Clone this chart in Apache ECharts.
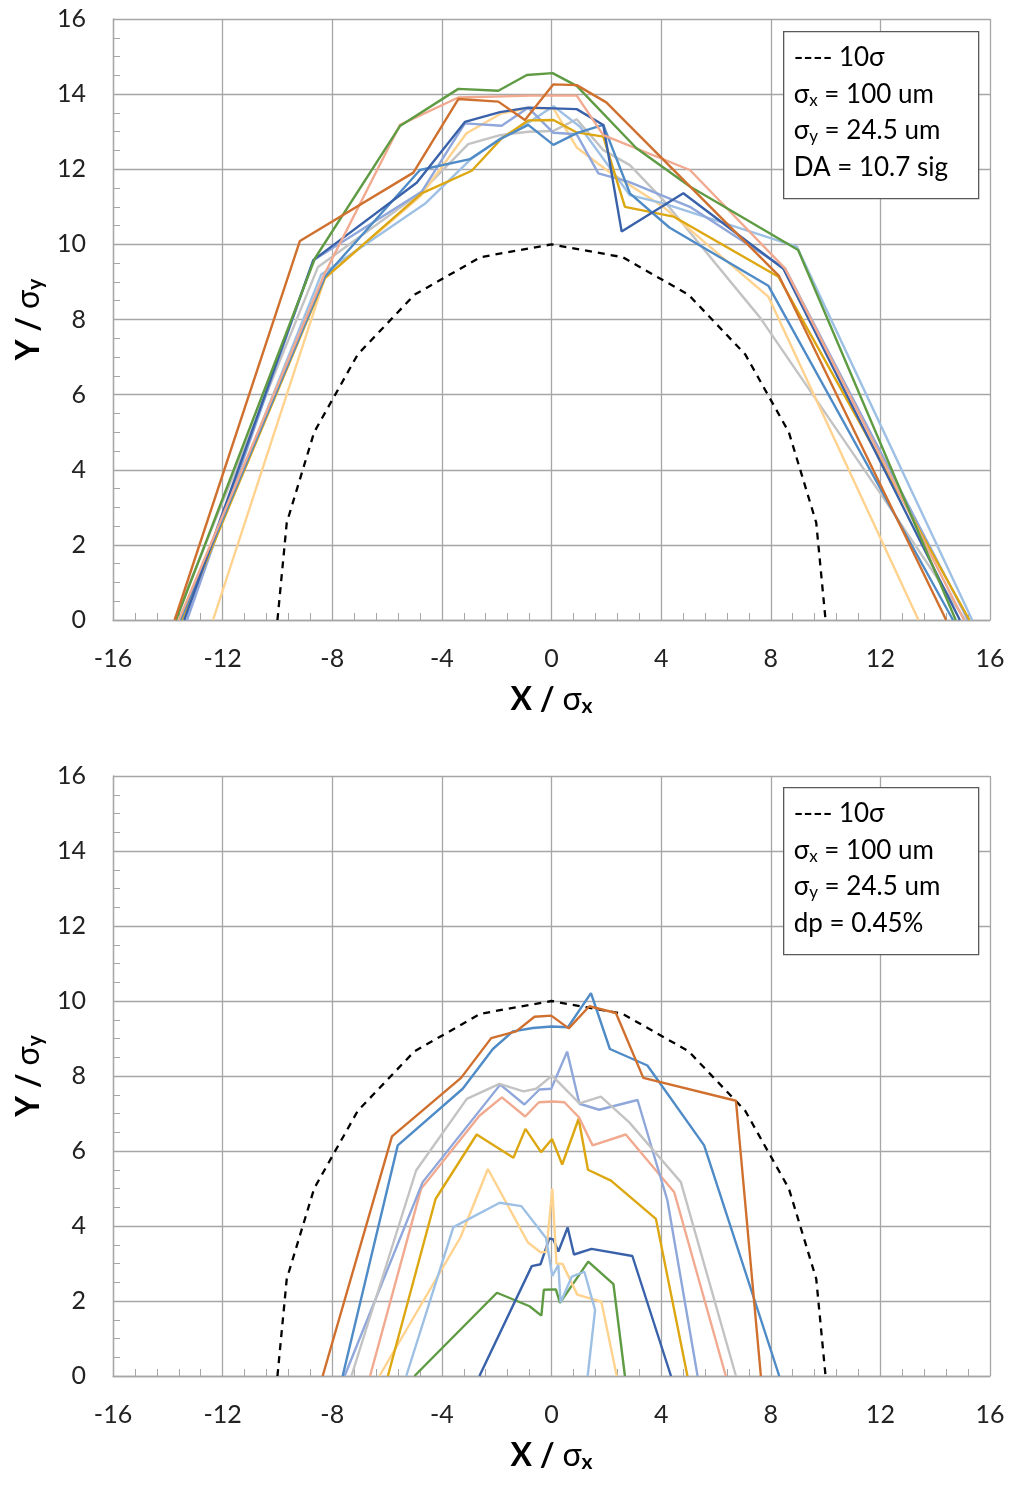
<!DOCTYPE html>
<html>
<head>
<meta charset="utf-8">
<script src="https://cdn.jsdelivr.net/npm/echarts@6/dist/echarts.min.js"></script>
<style>
  html, body { margin: 0; padding: 0; background: #fff; }
  #chart { width: 1012px; height: 1485px; }
</style>
</head>
<body>
<div id="chart"></div>
<script>
// ---- Axis ticks ----
const xTicks = [-16, -12, -8, -4, 0, 4, 8, 12, 16];
const yTicks = [0, 2, 4, 6, 8, 10, 12, 14, 16];

// ---- 10 sigma reference boundary ----
const circleX = [-10, -9.66, -8.66, -7.07, -5, -2.59, 0, 2.59, 5, 7.07, 8.66, 9.66, 10];
const circleY = [0, 2.59, 5, 7.07, 8.66, 9.66, 10, 9.66, 8.66, 7.07, 5, 2.59, 0];

// ---- On-momentum dynamic aperture (upper panel), [x, y] per seed ----
const daOrange = [[-13.75,0],[-9.18,10.09],[-5.04,11.91],[-3.4,13.87],[-1.94,13.8],[-0.97,13.31],[0.07,14.26],[0.92,14.24],[2.0,13.78],[8.3,9.16],[14.4,0]];
const daGreen = [[-13.7,0],[-8.63,9.63],[-5.53,13.15],[-3.4,14.14],[-1.94,14.09],[-0.9,14.51],[0.04,14.56],[0.92,14.22],[3.1,12.56],[5.05,11.54],[9.0,9.85],[14.75,0]];
const daSalmon = [[-13.6,0],[-8.27,9.23],[-5.53,13.18],[-3.4,13.91],[-0.78,13.96],[0.92,13.96],[1.89,12.91],[5.05,11.98],[8.52,9.36],[15.05,0]];
const daDarkBlue = [[-13.4,0],[-8.69,9.58],[-4.92,11.64],[-3.16,13.26],[-1.88,13.52],[-0.85,13.64],[0.07,13.62],[0.92,13.6],[1.89,13.18],[2.56,10.34],[4.81,11.36],[8.46,9.35],[14.9,0]];
const daBlue = [[-13.55,0],[-8.27,9.14],[-4.8,11.98],[-2.97,12.27],[-1.88,12.8],[-0.85,13.18],[0.07,12.65],[0.92,12.96],[1.89,13.18],[2.86,11.36],[4.3,10.45],[7.91,8.9],[14.65,0]];
const daGold = [[-13.5,0],[-8.27,9.1],[-4.74,11.36],[-2.91,11.96],[-1.82,12.82],[-0.85,13.3],[0.07,13.31],[0.92,12.98],[1.89,12.87],[2.68,11.0],[4.45,10.74],[8.28,9.14],[15.25,0]];
const daGray = [[-13.75,0],[-8.52,9.4],[-4.8,11.36],[-3.04,12.67],[-1.88,12.91],[-0.85,13.0],[0.07,13.02],[0.92,13.33],[1.89,12.51],[2.86,12.11],[4.08,11.18],[7.61,8.05],[12.0,3.37],[15.1,0]];
const daPeriwinkle = [[-13.3,0],[-8.69,9.58],[-4.74,11.4],[-3.16,13.22],[-1.82,13.16],[-0.85,13.64],[0.07,12.97],[0.92,12.93],[1.71,11.89],[2.8,11.67],[5.05,11.0],[8.52,9.36],[15.2,0]];
const daLightBlue = [[-13.45,0],[-8.4,9.2],[-4.62,11.08],[-2.97,12.25],[-1.76,12.87],[-0.78,13.27],[0.07,13.68],[1.04,13.13],[2.86,11.31],[4.08,11.09],[8.95,9.94],[15.35,0]];
const daLightYellow = [[-12.35,0],[-8.27,9.1],[-4.8,11.27],[-3.1,12.96],[-1.82,13.49],[-0.85,13.62],[0.07,13.62],[0.92,12.58],[2.01,11.98],[3.23,11.4],[4.08,11.0],[7.91,8.61],[13.39,0]];

// ---- Off-momentum (dp = 0.45%) dynamic aperture (lower panel) ----
const dpOrange = [[-8.35,0],[-5.82,6.39],[-3.3,7.95],[-2.2,9.01],[-1.29,9.19],[-0.62,9.58],[-0.01,9.61],[0.63,9.27],[1.38,9.86],[2.35,9.68],[3.35,7.95],[6.73,7.34],[7.64,0]];
const dpBlue = [[-7.62,0],[-5.61,6.15],[-3.24,7.66],[-2.14,8.72],[-1.41,9.19],[-0.68,9.28],[0,9.32],[0.6,9.3],[1.44,10.21],[2.13,8.72],[3.5,8.28],[5.57,6.15],[8.31,0]];
const dpGray = [[-7.3,0],[-4.94,5.48],[-3.09,7.39],[-1.9,7.79],[-1.02,7.59],[-0.56,7.66],[0.02,8.01],[1.02,7.27],[1.8,7.45],[2.83,6.77],[4.72,5.17],[6.73,0]];
const dpPeriwinkle = [[-7.55,0],[-4.7,5.17],[-1.87,7.77],[-0.99,7.24],[-0.44,7.64],[-0.01,7.66],[0.57,8.65],[1.02,7.26],[1.74,7.1],[3.14,7.36],[4.23,4.68],[5.33,0]];
const dpSalmon = [[-6.62,0],[-4.76,4.99],[-2.63,6.94],[-1.81,7.43],[-0.96,6.92],[-0.46,7.3],[0.05,7.32],[0.47,7.3],[1.0,6.9],[1.5,6.15],[2.71,6.44],[4.48,4.9],[6.36,0]];
const dpGold = [[-5.97,0],[-4.23,4.72],[-2.73,6.44],[-1.39,5.82],[-0.95,6.59],[-0.38,5.97],[0.02,6.32],[0.39,5.64],[0.99,6.86],[1.33,5.5],[2.17,5.21],[3.81,4.19],[4.96,0]];
const dpLightBlue = [[-5.3,0],[-3.58,3.97],[-1.89,4.62],[-1.1,4.53],[-0.2,3.68],[0.03,2.67],[0.25,2.96],[0.33,1.96],[0.74,2.65],[1.2,2.78],[1.59,1.76],[1.32,0]];
const dpLightYellow = [[-6.28,0],[-3.32,3.7],[-2.32,5.52],[-0.86,3.56],[-0.4,3.3],[-0.19,3.31],[0.03,5.0],[0.18,3.0],[0.4,2.99],[0.94,2.17],[1.82,1.98],[2.38,0]];
const dpDarkBlue = [[-2.63,0],[-0.72,2.93],[-0.4,2.98],[-0.08,3.67],[0.07,3.64],[0.25,3.32],[0.59,3.96],[0.82,3.24],[1.46,3.39],[2.95,3.2],[4.36,0]];
const dpGreen = [[-5.0,0],[-1.99,2.22],[-0.8,1.86],[-0.37,1.61],[-0.28,2.3],[0.16,2.31],[0.31,1.95],[1.34,3.05],[2.26,2.45],[2.68,0]];

// ---- Legend box texts ----
const topNotes = ['---- 10σ', 'σx = 100 um', 'σy = 24.5 um', 'DA = 10.7 sig'];
const bottomNotes = ['---- 10σ', 'σx = 100 um', 'σy = 24.5 um', 'dp = 0.45%'];

const COLORS = {
  orange: '#D0702F', blue: '#4F8BC6', darkBlue: '#3A62AA', green: '#5E9B43',
  gold: '#DDA712', gray: '#C3C3C3', salmon: '#F1A98F', lightBlue: '#9DC0E4',
  periwinkle: '#8FA7DA', lightYellow: '#FFD28E'
};

const FONT = 'Lato, "Open Sans", sans-serif';
const GRID_COLOR = '#A6A6A6';

const topSeries = [
  ['gray', daGray], ['lightYellow', daLightYellow], ['lightBlue', daLightBlue],
  ['periwinkle', daPeriwinkle], ['gold', daGold], ['blue', daBlue],
  ['darkBlue', daDarkBlue], ['salmon', daSalmon], ['green', daGreen], ['orange', daOrange]
];
const bottomSeries = [
  ['green', dpGreen], ['darkBlue', dpDarkBlue], ['lightYellow', dpLightYellow],
  ['lightBlue', dpLightBlue], ['gold', dpGold], ['salmon', dpSalmon],
  ['periwinkle', dpPeriwinkle], ['gray', dpGray], ['blue', dpBlue], ['orange', dpOrange]
];

const titleRich = {
  b: { fontFamily: FONT, fontWeight: 'bold', fontSize: 32, color: '#000' },
  g: { fontFamily: FONT, fontSize: 32, color: '#000' },
  s: { fontFamily: FONT, fontWeight: 'bold', fontSize: 21, color: '#000', padding: [14, 0, 0, 0] }
};

function xAxisFor(gridIndex) {
  return {
    type: 'value', gridIndex, min: xTicks[0], max: xTicks[xTicks.length - 1],
    interval: xTicks[1] - xTicks[0],
    name: '{b|X / }{g|σ}{s|x}', nameLocation: 'middle', nameGap: 62,
    nameTextStyle: { rich: titleRich },
    axisLine: { show: true, onZero: false, lineStyle: { color: GRID_COLOR, width: 1.3 } },
    axisTick: { show: true, inside: true, length: 7, lineStyle: { color: GRID_COLOR, width: 1 } },
    minorTick: { show: true, splitNumber: 5, length: 7, lineStyle: { color: GRID_COLOR, width: 1 } },
    splitLine: { show: true, lineStyle: { color: GRID_COLOR, width: 1.3 } },
    axisLabel: { fontFamily: FONT, fontSize: 25, color: '#222', margin: 26 }
  };
}

function yAxisFor(gridIndex) {
  return {
    type: 'value', gridIndex, min: yTicks[0], max: yTicks[yTicks.length - 1],
    interval: yTicks[1] - yTicks[0],
    name: '{b|Y / }{g|σ}{s|y}', nameLocation: 'middle', nameGap: 58,
    nameTextStyle: { rich: titleRich },
    axisLine: { show: true, onZero: false, lineStyle: { color: GRID_COLOR, width: 1.3 } },
    axisTick: { show: true, inside: true, length: 7, lineStyle: { color: GRID_COLOR, width: 1 } },
    minorTick: { show: true, splitNumber: 4, length: 7, lineStyle: { color: GRID_COLOR, width: 1 } },
    splitLine: { show: true, lineStyle: { color: GRID_COLOR, width: 1.3 } },
    axisLabel: { fontFamily: FONT, fontSize: 25, color: '#222', margin: 27 }
  };
}

function lineSeries(list, axisIndex) {
  return list.map(([key, data]) => ({
    type: 'line', xAxisIndex: axisIndex, yAxisIndex: axisIndex,
    data, showSymbol: false, symbol: 'none', silent: true,
    lineStyle: { color: COLORS[key], width: 2.4 }, z: 3
  }));
}

function circleSeries(axisIndex) {
  return {
    type: 'line', xAxisIndex: axisIndex, yAxisIndex: axisIndex,
    data: circleX.map((x, i) => [x, circleY[i]]),
    showSymbol: false, symbol: 'none', silent: true, z: 2,
    lineStyle: { color: '#000', width: 2.3, type: [7, 6] }
  };
}

function noteLine(text) {
  // split "σx ..." / "σy ..." into sigma + subscript + rest
  const m = text.match(/^σ([xy])(.*)$/);
  if (m) return '{t|σ}{s|' + m[1] + '}{t|' + m[2] + '}';
  return '{t|' + text + '}';
}

function noteBox(left, top, lines) {
  const children = [{
    type: 'rect', z: 100, shape: { x: 0, y: 0, width: 195, height: 167 },
    style: { fill: '#fff', stroke: '#595959', lineWidth: 1.3 }
  }];
  lines.forEach((txt, i) => {
    children.push({
      type: 'text', z: 101, x: 10, y: 26 + i * 36.5,
      style: {
        text: noteLine(txt), verticalAlign: 'middle', align: 'left',
        rich: {
          t: { fontFamily: FONT, fontSize: 26, color: '#000' },
          s: { fontFamily: FONT, fontSize: 17, color: '#000', padding: [12, 0, 0, 0] }
        }
      }
    });
  });
  return { type: 'group', left, top, z: 100, children };
}

const chart = echarts.init(document.getElementById('chart'), null, { renderer: 'canvas' });
chart.setOption({
  animation: false,
  backgroundColor: '#fff',
  grid: [
    { left: 113, top: 19, width: 877, height: 601 },
    { left: 113, top: 776, width: 877, height: 600 }
  ],
  xAxis: [xAxisFor(0), xAxisFor(1)],
  yAxis: [yAxisFor(0), yAxisFor(1)],
  series: [
    circleSeries(0), ...lineSeries(topSeries, 0),
    circleSeries(1), ...lineSeries(bottomSeries, 1)
  ],
  graphic: [noteBox(783, 31, topNotes), noteBox(783, 787, bottomNotes)]
});
</script>
</body>
</html>
